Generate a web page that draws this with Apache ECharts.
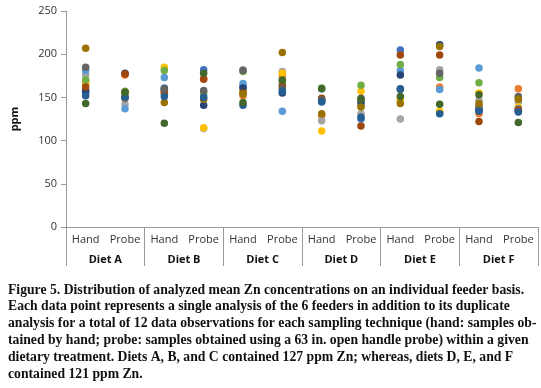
<!DOCTYPE html>
<html><head><meta charset="utf-8">
<script src="https://cdn.jsdelivr.net/npm/echarts@6/dist/echarts.min.js"></script>
<style>html,body{margin:0;padding:0;background:#fff}#c{width:541px;height:388px}</style>
</head><body><div id="c"></div>
<script>
const categories = ['Hand','Probe','Hand','Probe','Hand','Probe','Hand','Probe','Hand','Probe','Hand','Probe'];
const diets = ['Diet A','Diet B','Diet C','Diet D','Diet E','Diet F'];
const yTicks = [0, 50, 100, 150, 200, 250];
const colors = ['#4472C4','#ED7D31','#A5A5A5','#FFC000','#5B9BD5','#70AD47','#264478','#9E480E','#636363','#997300','#255E91','#43682B'];
// each array: one observation across the 12 categories (A Hand, A Probe, B Hand, ... F Probe)
const obs1  = [156,150,161,182,163,165,146,125,205,132,137,135];
const obs2  = [166,176,157,172,152,175,129,140,146,162,131,160];
const obs3  = [176,142,153,114,182,180,123,131,125,182,146,145];
const obs4  = [168,155,185,115,158,178,111,157,147,134,155,139];
const obs5  = [181,137,173,153,166,134,160,142,181,159,184,137];
const obs6  = [170,157,181,156,180,168,161,164,188,173,167,150];
const obs7  = [158,178,159,141,161,155,145,145,176,211,135,134];
const obs8  = [162,177,156,171,155,163,149,117,199,199,122,136];
const obs9  = [185,149,160,158,181,160,147,149,159,178,140,151];
const obs10 = [207,156,144,148,154,202,131,139,143,209,143,148];
const obs11 = [152,151,151,150,141,157,145,127,160,131,134,133];
const obs12 = [143,156,120,178,144,170,160,148,151,142,153,121];
const allObs = [obs1,obs2,obs3,obs4,obs5,obs6,obs7,obs8,obs9,obs10,obs11,obs12];
const caption = [
 'Figure 5. Distribution of analyzed mean Zn concentrations on an individual feeder basis.',
 'Each data point represents a single analysis of the 6 feeders in addition to its duplicate',
 'analysis for a total of 12 data observations for each sampling technique (hand: samples ob-',
 'tained by hand; probe: samples obtained using a 63 in. open handle probe) within a given',
 'dietary treatment. Diets A, B, and C contained 127 ppm Zn; whereas, diets D, E, and F',
 'contained 121 ppm Zn.'
];
const chart = echarts.init(document.getElementById('c'), null, {renderer:'canvas'});
const sansFont = 'Open Sans, Liberation Sans, sans-serif';
chart.setOption({
  animation:false,
  grid:{left:66, right:3, top:11, bottom:161},
  xAxis:[{
    type:'category', data:categories, position:'bottom',
    axisLine:{show:true, lineStyle:{color:'#999', width:1}},
    axisTick:{show:false},
    axisLabel:{color:'#333', fontSize:11, fontFamily:sansFont, margin:7, interval:0}
  },{
    type:'category', data:diets, position:'bottom',
    axisLine:{show:false},
    axisTick:{show:true, length:39, lineStyle:{color:'#999', width:1}},
    axisLabel:{color:'#111', fontSize:11, fontWeight:'bold', fontFamily:sansFont, margin:27, interval:0}
  }],
  yAxis:{
    type:'value', min:yTicks[0], max:yTicks[yTicks.length-1], interval:50,
    name:'ppm', nameLocation:'middle', nameGap:46, nameRotate:90,
    nameTextStyle:{color:'#111', fontSize:11, fontWeight:'bold', fontFamily:sansFont},
    axisLine:{show:true, lineStyle:{color:'#999', width:1}},
    axisTick:{show:true, length:5, lineStyle:{color:'#999'}},
    splitLine:{show:false},
    axisLabel:{color:'#333', fontSize:11, fontFamily:sansFont, margin:9}
  },
  series: allObs.map((d,i)=>({
    type:'scatter', xAxisIndex:0, data:d, symbol:'circle', symbolSize:7.5,
    itemStyle:{color:colors[i], opacity:1}
  })),
  graphic: caption.map((t,i)=>({
    type:'text', left:8, top:283+i*16.8,
    style:{text:t, fill:'#111', font:'bold 13.7px "Liberation Serif", serif'}
  }))
});
</script></body></html>
